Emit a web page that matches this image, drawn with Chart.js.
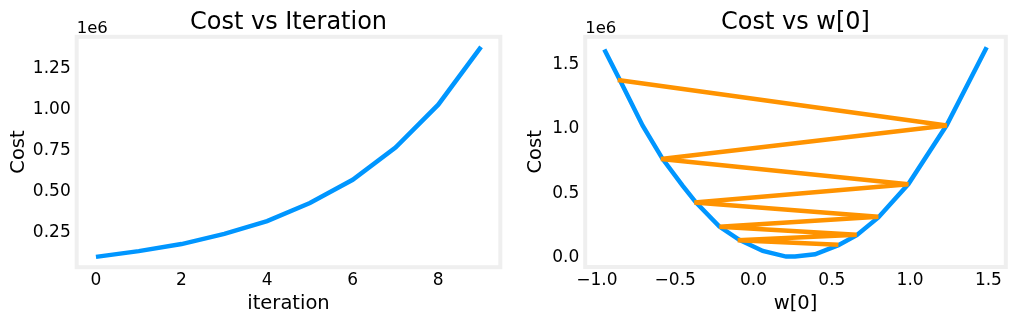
<!DOCTYPE html>
<html>
<head>
<meta charset="utf-8">
<script src="https://cdn.jsdelivr.net/npm/chart.js"></script>
<style>
    body { margin: 0; background: #ffffff; overflow: hidden; }
    .panel { position: absolute; top: 0; }
</style>
</head>
<body>
<div class="panel" style="left:0px"><canvas id="costIterChart" width="510" height="322"></canvas></div>
<div class="panel" style="left:510px"><canvas id="costWChart" width="507" height="322"></canvas></div>

<script>
// cost history from gradient descent (learning rate too large, so it grows)
let iterations = [0, 1, 2, 3, 4, 5, 6, 7, 8, 9];
let costHistory = [100000, 135000, 178000, 240000, 318000, 428000, 570000, 767000, 1028000, 1381000];
let w0History = [0.542, -0.101, 0.659, -0.218, 0.797, -0.378, 0.989, -0.591, 1.234, -0.867];

// cost as a function of w[0] with the other parameters fixed
let wGrid = [-0.953, -0.857, -0.708, -0.580, -0.452, -0.367, -0.218, -0.091, 0.059, 0.208, 0.265, 0.393, 0.542, 0.659, 0.797, 0.989, 1.234, 1.489];
let costGrid = [1618000, 1389000, 1026000, 766000, 558000, 428000, 241000, 138000, 52000, 8000, 8000, 26000, 97000, 174000, 312000, 572000, 1031000, 1636000];

let iterTicks = [0, 2, 4, 6, 8];
let iterCostTicks = [250000, 500000, 750000, 1000000, 1250000];
let wTicks = [-1.0, -0.5, 0.0, 0.5, 1.0, 1.5];
let wCostTicks = [0, 500000, 1000000, 1500000];

const dlblue = '#0096ff';
const dlorange = '#ff9300';
const frameColor = '#efefef';
const fontFamily = "'DejaVu Sans', Verdana, sans-serif";

Chart.defaults.color = '#000000';
Chart.defaults.font.family = fontFamily;

function toPoints(xs, ys) {
    return xs.map(function (x, i) {
        return { x: x, y: ys[i] };
    });
}

function fixedTicks(values) {
    return function (scale) {
        scale.ticks = values.map(function (v) { return { value: v }; });
    };
}

function minusSign(text) {
    return text.replace('-', '\u2212');
}

// light grey box round the plot area plus the "1e6" offset label
const axesFrame = {
    id: 'axesFrame',
    afterDatasetsDraw(chart) {
        const a = chart.chartArea;
        const ctx = chart.ctx;
        ctx.save();
        ctx.strokeStyle = frameColor;
        ctx.lineWidth = 4;
        ctx.strokeRect(a.left, a.top, a.right - a.left, a.bottom - a.top);
        ctx.fillStyle = '#000000';
        ctx.font = '16.5px ' + fontFamily;
        ctx.textAlign = 'left';
        ctx.textBaseline = 'alphabetic';
        ctx.fillText('1e6', a.left, 33);
        ctx.restore();
    }
};

function makeOptions(cfg) {
    return {
        responsive: false,
        animation: false,
        events: [],
        layout: { padding: { left: 0, right: cfg.padRight, top: 0, bottom: 0 } },
        plugins: {
            legend: { display: false },
            tooltip: { enabled: false },
            title: {
                display: true,
                text: cfg.title,
                fullSize: false,
                color: '#000000',
                font: { size: 24, weight: 'normal', lineHeight: 1 },
                padding: { top: 10.5, bottom: 2.3 }
            }
        },
        scales: {
            x: {
                type: 'linear',
                min: cfg.xMin,
                max: cfg.xMax,
                grid: { display: false, drawTicks: false },
                border: { display: false },
                afterBuildTicks: fixedTicks(cfg.xTicks),
                afterFit: function (scale) { scale.height = cfg.xHeight; },
                ticks: {
                    padding: 3.5,
                    maxRotation: 0,
                    font: { size: 17 },
                    callback: cfg.xFormat
                },
                title: {
                    display: true,
                    text: cfg.xLabel,
                    font: { size: 19.5 },
                    padding: { top: 0, bottom: 6.5 }
                }
            },
            y: {
                type: 'linear',
                min: cfg.yMin,
                max: cfg.yMax,
                grid: { display: false, drawTicks: false },
                border: { display: false },
                afterBuildTicks: fixedTicks(cfg.yTicks),
                afterFit: function (scale) { scale.width = cfg.yWidth; },
                ticks: {
                    padding: 6,
                    font: { size: 17 },
                    callback: cfg.yFormat
                },
                title: {
                    display: true,
                    text: 'Cost',
                    font: { size: 19.5 },
                    padding: { top: cfg.yTitlePad, bottom: 0 }
                }
            }
        }
    };
}

new Chart(document.getElementById('costIterChart'), {
    type: 'line',
    data: {
        datasets: [{
            data: toPoints(iterations, costHistory),
            borderColor: dlblue,
            borderWidth: 4.5,
            pointRadius: 0,
            tension: 0,
            fill: false
        }]
    },
    options: makeOptions({
        title: 'Cost vs Iteration',
        xLabel: 'iteration',
        padRight: 9.7,
        xHeight: 54.8,
        yWidth: 76.7,
        yTitlePad: 7.5,
        xMin: -0.45, xMax: 9.45,
        yMin: 37000, yMax: 1442000,
        xTicks: iterTicks,
        yTicks: iterCostTicks,
        xFormat: function (v) { return String(v); },
        yFormat: function (v) { return (v / 1e6).toFixed(2); }
    }),
    plugins: [axesFrame]
});

new Chart(document.getElementById('costWChart'), {
    type: 'line',
    data: {
        datasets: [{
            data: toPoints(wGrid, costGrid),
            borderColor: dlblue,
            borderWidth: 4.5,
            pointRadius: 0,
            tension: 0,
            fill: false,
            order: 2
        }, {
            data: toPoints(w0History, costHistory),
            borderColor: dlorange,
            borderWidth: 4.5,
            borderJoinStyle: 'bevel',
            pointRadius: 0,
            tension: 0,
            fill: false,
            order: 1
        }]
    },
    options: makeOptions({
        title: 'Cost vs w[0]',
        xLabel: 'w[0]',
        padRight: 11.2,
        xHeight: 55,
        yWidth: 75.2,
        yTitlePad: 14.5,
        xMin: -1.075, xMax: 1.611,
        yMin: -73000, yMax: 1717000,
        xTicks: wTicks,
        yTicks: wCostTicks,
        xFormat: function (v) { return minusSign(v.toFixed(1)); },
        yFormat: function (v) { return (v / 1e6).toFixed(1); }
    }),
    plugins: [axesFrame]
});
</script>
</body>
</html>
